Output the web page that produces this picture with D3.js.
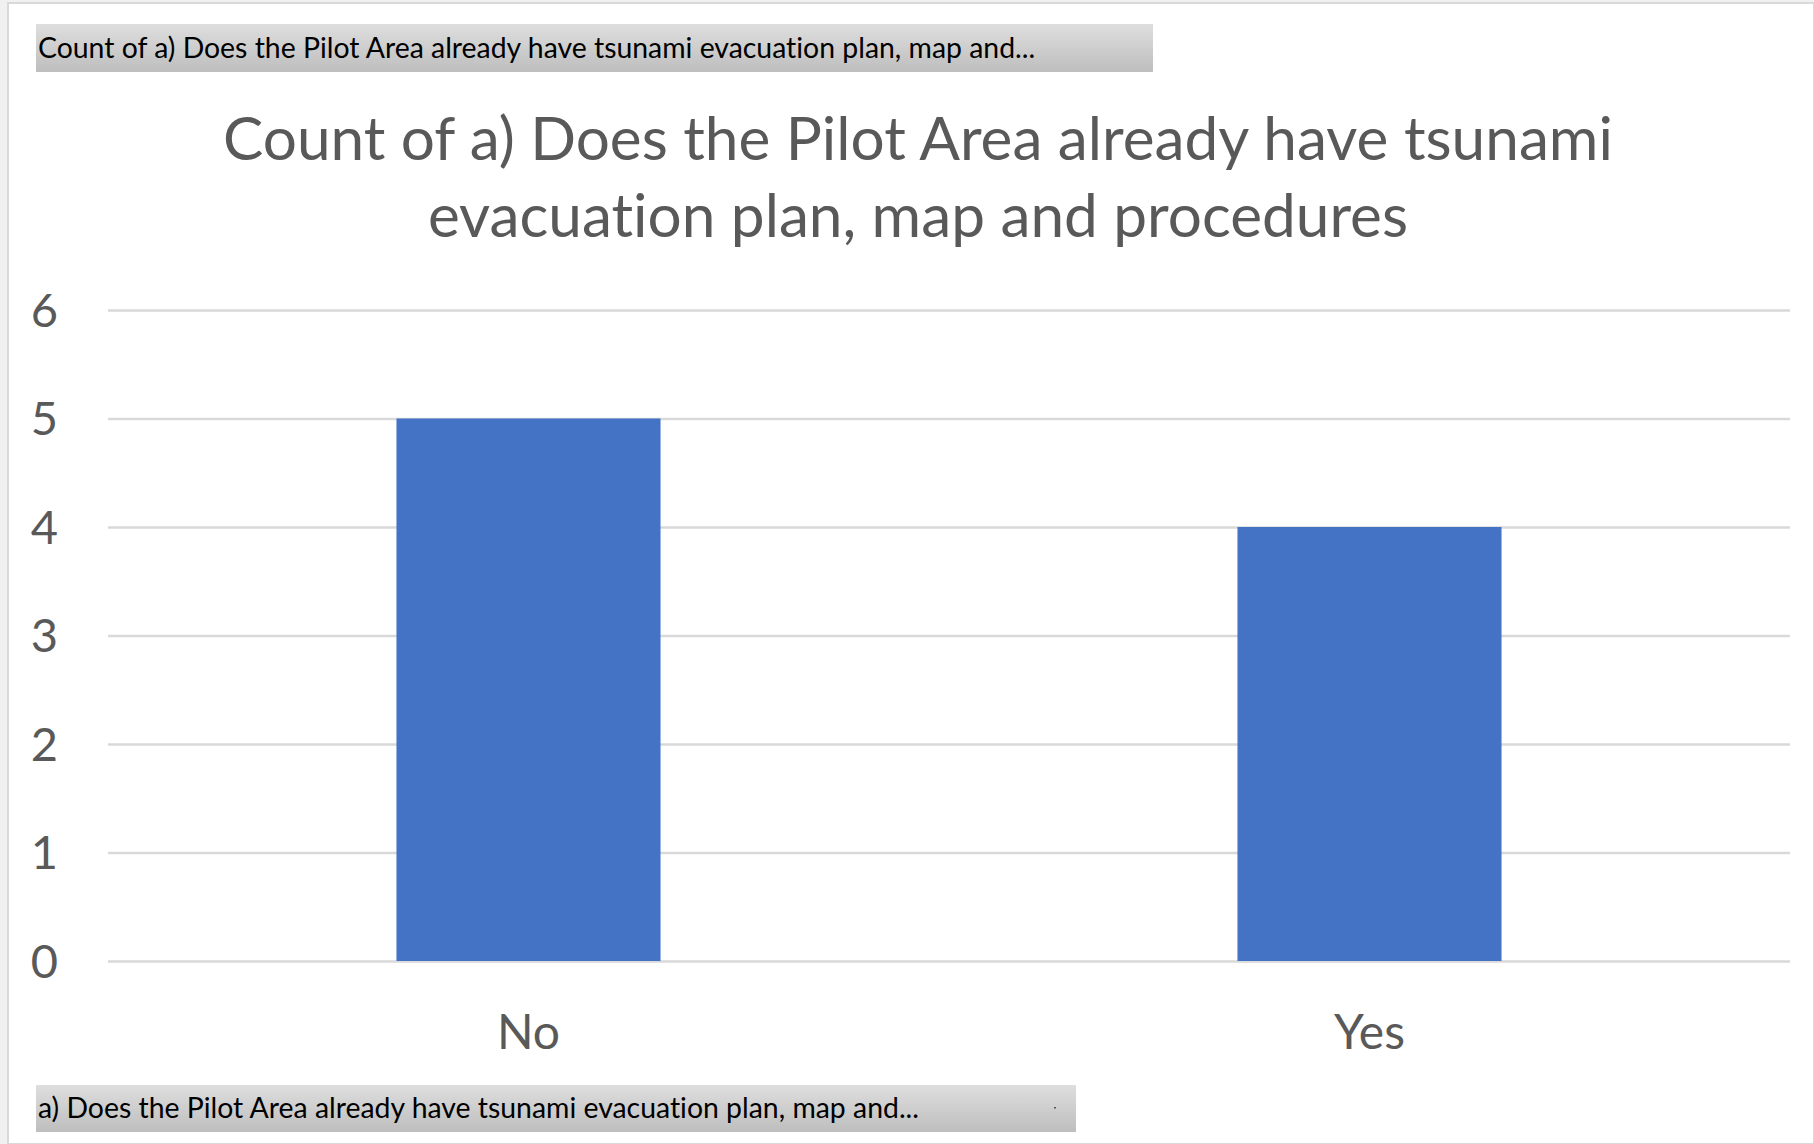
<!DOCTYPE html>
<html><head><meta charset="utf-8">
<script src="https://cdn.jsdelivr.net/npm/d3@7/dist/d3.min.js"></script>
<style>html,body{margin:0;padding:0;background:#fff;}svg{display:block;}text{font-variant-ligatures:none;font-feature-settings:"liga" 0;}</style>
</head><body>
<script>
const categories = ["No", "Yes"];
const counts = [5, 4];
const yTicks = [0, 1, 2, 3, 4, 5, 6];
const titleLines = ["Count of a) Does the Pilot Area already have tsunami", "evacuation plan, map and procedures"];
const topButtonText = "Count of a) Does the Pilot Area already have tsunami evacuation plan, map and...";
const bottomButtonText = "a) Does the Pilot Area already have tsunami evacuation plan, map and...";

const W = 1814, H = 1144;
const FONT = "Lato, 'Open Sans', sans-serif";
const svg = d3.select("body").append("svg").attr("width", W).attr("height", H);
const defs = svg.append("defs");
const grad = defs.append("linearGradient").attr("id", "btn").attr("x1", 0).attr("y1", 0).attr("x2", 0).attr("y2", 1);
grad.append("stop").attr("offset", "0%").attr("stop-color", "#dedede");
grad.append("stop").attr("offset", "100%").attr("stop-color", "#bebebe");

// frame
svg.append("rect").attr("x", 0).attr("y", 0).attr("width", W).attr("height", H).attr("fill", "#f0f0f0");
svg.append("rect").attr("x", 8).attr("y", 3).attr("width", W - 8).attr("height", H - 3).attr("fill", "#fff").attr("stroke", "#d9d9d9").attr("stroke-width", 2);

// buttons
function button(x, y, w, h, text) {
  svg.append("rect").attr("x", x).attr("y", y).attr("width", w).attr("height", h).attr("fill", "url(#btn)");
  svg.append("text").attr("x", x + 2).attr("y", y + h - 14).attr("font-family", FONT).attr("font-size", 28.4)
    .attr("fill", "#000").text(text);
}
button(36, 24, 1117, 48, topButtonText);
button(36, 1085, 1040, 47, bottomButtonText);
svg.append("rect").attr("x", 1054).attr("y", 1107).attr("width", 2).attr("height", 1.5).attr("fill", "#555");

// title
svg.append("text").attr("x", 918).attr("y", 160).attr("text-anchor", "middle").attr("font-family", FONT)
  .attr("font-size", 60.3).attr("fill", "#595959")
  .selectAll("tspan").data(titleLines).join("tspan").attr("x", 918).attr("dy", (d, i) => i ? 77 : 0).text(d => d);

// scales
const x = d3.scaleBand().domain(categories).range([108, 1790]).paddingInner(0.686).paddingOuter(0.343);
const y = d3.scaleLinear().domain([0, 6]).range([961, 310]);

// gridlines
const yAxis = d3.axisLeft(y).tickValues(yTicks).tickSize(-(1790 - 108)).tickFormat(d3.format("d")).tickPadding(50);
const gy = svg.append("g").attr("transform", "translate(108,0)").call(yAxis);
gy.select(".domain").remove();
gy.selectAll(".tick line").attr("stroke", "#d9d9d9").attr("stroke-width", 2.5);
gy.selectAll(".tick text").attr("font-family", FONT).attr("font-size", 47).attr("fill", "#595959").attr("dy", "0.35em");

// bars
svg.append("g").selectAll("rect").data(categories).join("rect")
  .attr("x", d => x(d)).attr("width", x.bandwidth())
  .attr("y", (d, i) => y(counts[i])).attr("height", (d, i) => y(0) - y(counts[i]))
  .attr("fill", "#4472C4");

// x axis labels
const xAxis = d3.axisBottom(x).tickSize(0).tickPadding(0);
const gx = svg.append("g").attr("transform", "translate(0,1049)").call(xAxis);
gx.select(".domain").remove();
gx.selectAll(".tick text").attr("font-family", FONT).attr("font-size", 48).attr("fill", "#595959").attr("dy", 0);
</script>
</body></html>
